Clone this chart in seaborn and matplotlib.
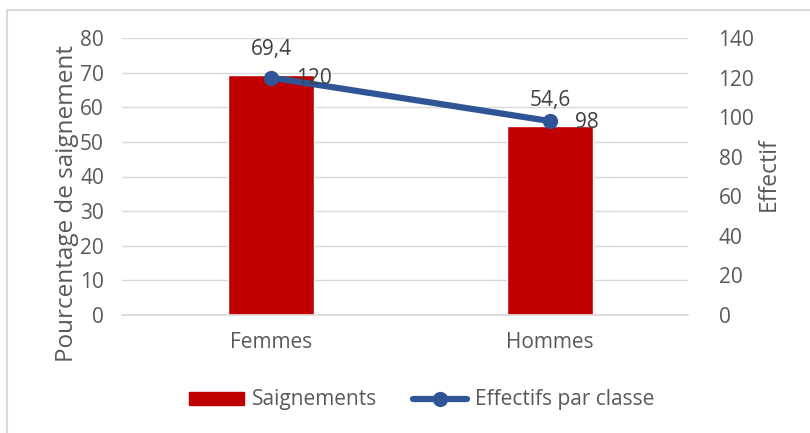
import matplotlib
matplotlib.use("Agg")
import matplotlib.pyplot as plt
import seaborn as sns
import pandas as pd
from matplotlib.patches import Rectangle
from matplotlib.lines import Line2D
from matplotlib.patches import Patch

categories = ["Femmes", "Hommes"]
saignements = [69.4, 54.6]
effectifs = [120, 98]
saign_labels = ["69,4", "54,6"]
eff_labels = ["120", "98"]

sns.set_theme(style="white")
plt.rcParams["font.family"] = ["Open Sans", "DejaVu Sans"]
txt = "#595959"

df = pd.DataFrame({"cat": categories, "s": saignements, "e": effectifs})

L, R, T, B = 122, 688, 38, 315
fig = plt.figure(figsize=(8.1, 4.33), dpi=100)
ax = fig.add_axes([L/810, 1-B/433, (R-L)/810, (B-T)/433])
sns.barplot(data=df, x="cat", y="s", color="#C00000", width=0.31, ax=ax, saturation=1)
xl = ((L-271)/279, (R-271)/279)
ax.set_ylim(0, 80)
ax.set_xlim(*xl)
ax.set_yticks(range(0, 81, 10))
ax.yaxis.grid(True, color="#D9D9D9", lw=1)
ax.set_axisbelow(True)
for sp in ["top", "right", "left"]:
    ax.spines[sp].set_visible(False)
ax.spines["bottom"].set_color("#D9D9D9")
ax.tick_params(axis="both", colors=txt, labelsize=15, length=0, pad=12)
ax.tick_params(axis="y", pad=13)
ax.set_xlabel("")
ax.set_ylabel("Pourcentage de saignement", color=txt, fontsize=17.5)
ax.yaxis.set_label_coords((79-L)/(R-L), (B-204)/(B-T))

ax2 = ax.twinx()
sns.lineplot(data=df, x="cat", y="e", color="#2F5597", lw=4.5, marker="o", markersize=11,
             markeredgewidth=0, ax=ax2, sort=False)
ax2.set_ylim(0, 140)
ax2.set_yticks(range(0, 141, 20))
ax2.set_xlim(*xl)
for sp in ["top", "right", "left", "bottom"]:
    ax2.spines[sp].set_visible(False)
ax2.tick_params(axis="y", colors=txt, labelsize=15, length=0, pad=22)
ax2.set_ylabel("Effectif", color=txt, fontsize=16.5)
ax2.yaxis.set_label_coords((757-L)/(R-L), (B-174)/(B-T))

for i, (v, l) in enumerate(zip(saignements, saign_labels)):
    ax.annotate(l, (i, v), xytext=(0, 18), textcoords="offset points", ha="center", va="center",
                fontsize=15, color="#404040")
for i, (v, l) in enumerate(zip(effectifs, eff_labels)):
    ax2.annotate(l, (i, v), xytext=(18, -1), textcoords="offset points", ha="left", va="center",
                 fontsize=15, color="#404040")

handles = [Patch(color="#C00000", label="Saignements"),
           Line2D([], [], color="#2F5597", lw=4.5, marker="o", markersize=11, markeredgewidth=0,
                  label="Effectifs par classe")]
leg = fig.legend(handles=handles, loc="center", bbox_to_anchor=(422/810, 1-400/433), ncol=2,
                 frameon=False, fontsize=15, handlelength=2.6, handletextpad=0.4,
                 columnspacing=1.7, handleheight=0.6)
for t in leg.get_texts():
    t.set_color(txt)

fig.patches.append(Rectangle((7/810, -0.01), 1.0, 1-10/433+0.01, transform=fig.transFigure,
                             fill=False, edgecolor="#D9D9D9", lw=1.5))
fig.savefig("out.png", dpi=100)
